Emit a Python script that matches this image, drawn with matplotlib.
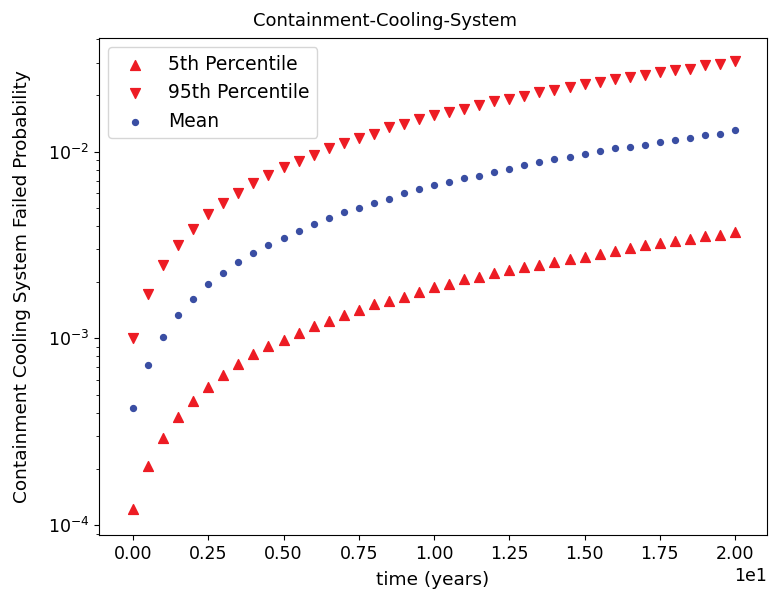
import numpy as np
import matplotlib
matplotlib.use("Agg")
import matplotlib.pyplot as plt

# time in years, step 0.5
time = np.arange(0, 20.5, 0.5)

p05 = [1.22e-4, 2.06e-4, 2.92e-4, 3.81e-4, 4.64e-4, 5.51e-4, 6.37e-4, 7.29e-4, 8.22e-4, 9.10e-4,
       9.80e-4, 1.073e-3, 1.165e-3, 1.245e-3, 1.335e-3, 1.42e-3, 1.52e-3, 1.59e-3, 1.67e-3, 1.76e-3,
       1.88e-3, 1.96e-3, 2.07e-3, 2.12e-3, 2.23e-3, 2.32e-3, 2.40e-3, 2.47e-3, 2.57e-3, 2.66e-3,
       2.74e-3, 2.83e-3, 2.95e-3, 3.04e-3, 3.15e-3, 3.23e-3, 3.31e-3, 3.41e-3, 3.51e-3, 3.58e-3,
       3.70e-3]
p95 = [1.0e-3, 1.73e-3, 2.47e-3, 3.16e-3, 3.85e-3, 4.64e-3, 5.29e-3, 6.03e-3, 6.77e-3, 7.50e-3,
       8.31e-3, 8.95e-3, 9.6e-3, 1.04e-2, 1.11e-2, 1.19e-2, 1.25e-2, 1.35e-2, 1.41e-2, 1.49e-2,
       1.57e-2, 1.62e-2, 1.70e-2, 1.78e-2, 1.86e-2, 1.91e-2, 1.99e-2, 2.08e-2, 2.14e-2, 2.21e-2,
       2.30e-2, 2.37e-2, 2.45e-2, 2.52e-2, 2.57e-2, 2.67e-2, 2.74e-2, 2.78e-2, 2.90e-2, 2.95e-2,
       3.05e-2]
mean = [4.24e-4, 7.20e-4, 1.02e-3, 1.33e-3, 1.63e-3, 1.96e-3, 2.23e-3, 2.56e-3, 2.88e-3, 3.16e-3,
        3.45e-3, 3.76e-3, 4.09e-3, 4.43e-3, 4.73e-3, 4.97e-3, 5.33e-3, 5.58e-3, 5.99e-3, 6.29e-3,
        6.63e-3, 6.86e-3, 7.21e-3, 7.44e-3, 7.82e-3, 8.11e-3, 8.52e-3, 8.77e-3, 9.11e-3, 9.40e-3,
        9.72e-3, 1.005e-2, 1.04e-2, 1.056e-2, 1.09e-2, 1.127e-2, 1.155e-2, 1.19e-2, 1.23e-2, 1.24e-2,
        1.30e-2]

red = "#ed1c24"
blue = "#3a4ea3"

fig = plt.figure(figsize=(7.69, 5.92), dpi=100)
ax = fig.add_axes([99/769, 1-535/592, (767-99)/769, (535-38)/592])

ax.scatter(time, p05, marker="^", color=red, s=50, label="5th Percentile")
ax.scatter(time, p95, marker="v", color=red, s=50, label="95th Percentile")
ax.scatter(time, mean, marker="o", color=blue, s=18, label="Mean")

ax.set_yscale("log")
ax.set_xlim(-1.13, 21.06)
ax.set_ylim(8.84e-5, 4.06e-2)
ax.ticklabel_format(axis="x", style="sci", scilimits=(0, 0))

ax.set_title("Containment-Cooling-System", fontsize=13, x=0.428, pad=9)
ax.set_xlabel("time (years)", fontsize=13.3, labelpad=6)
ax.set_ylabel("Containment Cooling System Failed Probability", fontsize=13.3, labelpad=12)
ax.tick_params(labelsize=12.5)
ax.xaxis.get_offset_text().set_fontsize(12.5)
ax.legend(loc="upper left", fontsize=13.5)

fig.savefig("out.png", dpi=100)
